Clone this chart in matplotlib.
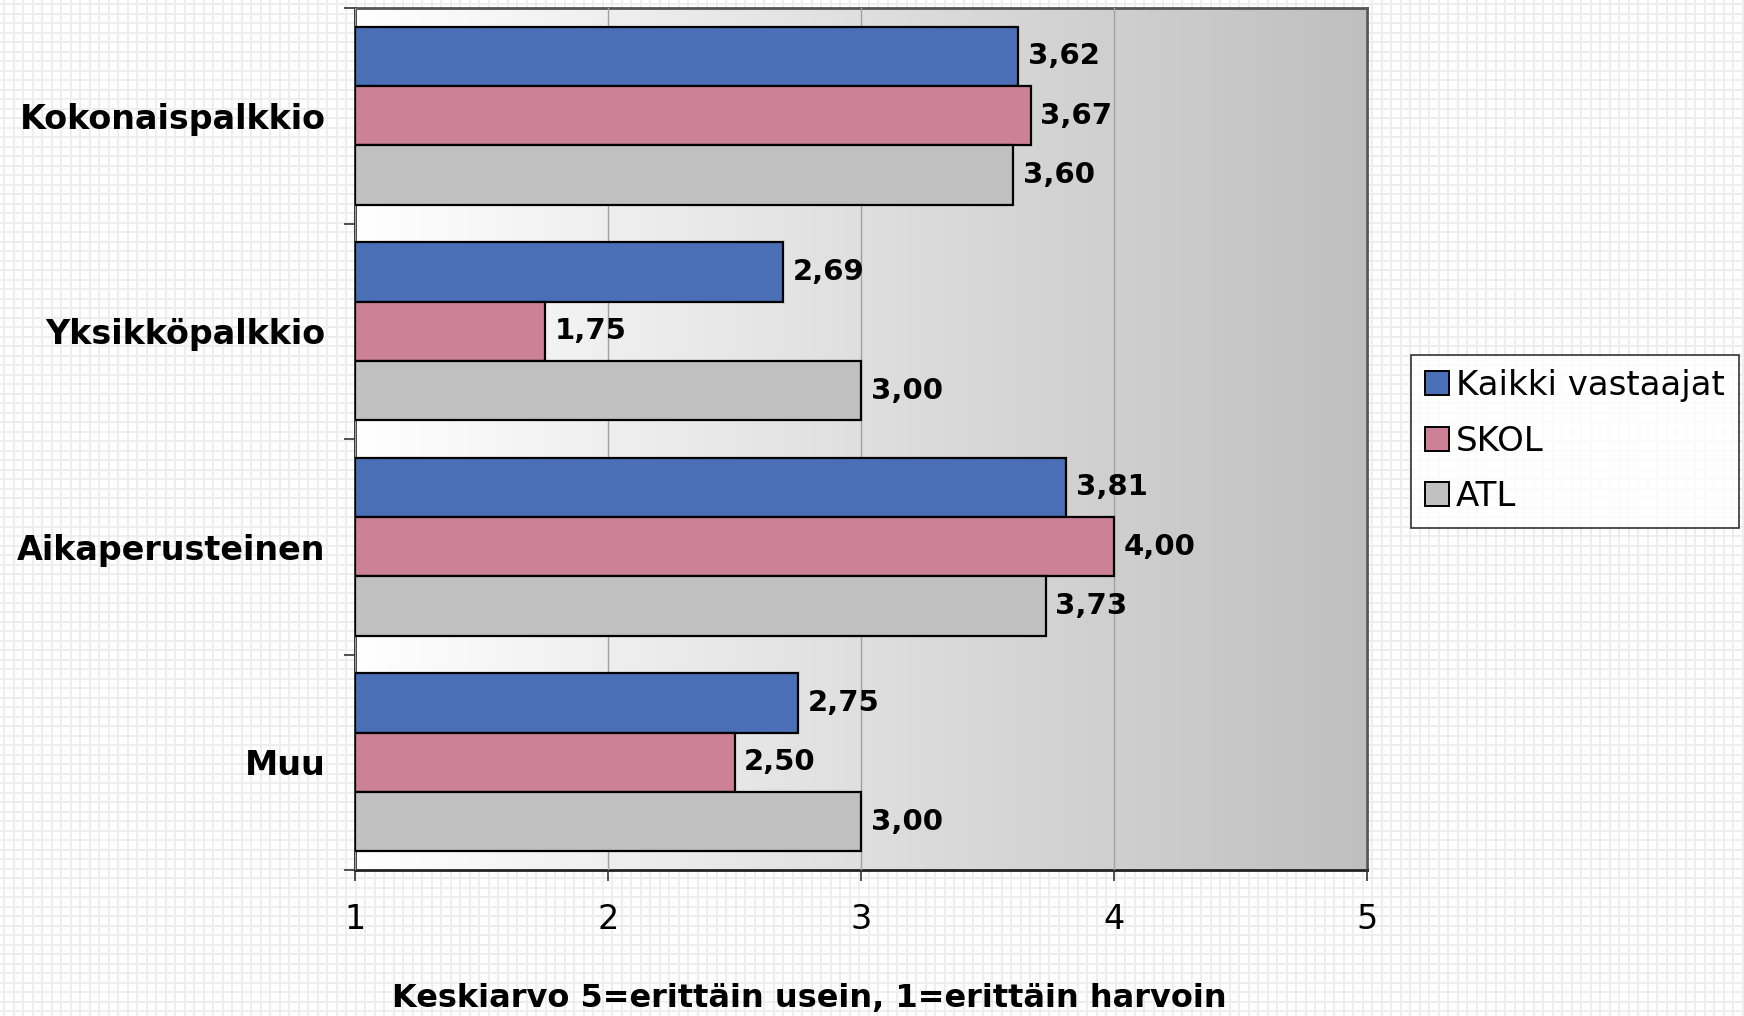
import numpy as np
import matplotlib
matplotlib.use('Agg')
import matplotlib.pyplot as plt
from matplotlib.patches import Patch

# data
categories = ['Kokonaispalkkio', 'Yksikköpalkkio', 'Aikaperusteinen', 'Muu']
series = ['Kaikki vastaajat', 'SKOL', 'ATL']
kaikki = [3.62, 2.69, 3.81, 2.75]
skol = [3.67, 1.75, 4.00, 2.50]
atl = [3.60, 3.00, 3.73, 3.00]
xticks = [1, 2, 3, 4, 5]
colors = ['#4a6fb7', '#cc8199', '#c0c0c0']

plt.rcParams['font.family'] = 'DejaVu Sans'
fig = plt.figure(figsize=(17.44, 10.16), dpi=100)

# light grid pattern behind everything
bg = fig.add_axes([0, 0, 1, 1], zorder=-10)
bg.set_xlim(0, 1744)
bg.set_ylim(1016, 0)
bg.axis('off')
for gx in np.arange(4, 1744, 9.5):
    bg.axvline(gx, color='#eeeeee', lw=1.4)
for gy in np.arange(4, 1016, 9.5):
    bg.axhline(gy, color='#eeeeee', lw=1.4)

ax = fig.add_axes([355/1744, 1-870/1016, (1367-355)/1744, (870-8)/1016])

# gradient background, white -> grey
grad = np.linspace(0, 1, 256).reshape(1, -1)
cmap = matplotlib.colors.LinearSegmentedColormap.from_list('g', ['#ffffff', '#bfbfbf'])
ax.imshow(grad, extent=[1, 5, len(categories) - 0.5, -0.5], aspect='auto',
          cmap=cmap, zorder=0)

y = np.arange(len(categories))
h = 0.275
vals = [kaikki, skol, atl]
for i, (name, v) in enumerate(zip(series, vals)):
    pos = y + (i - 1) * h
    ax.barh(pos, np.array(v) - 1, left=1, height=h, color=colors[i],
            edgecolor='black', linewidth=1.6, label=name, zorder=3)
    for p, val in zip(pos, v):
        ax.annotate(f'{val:.2f}'.replace('.', ','), (val, p), xytext=(7, 0),
                    textcoords='offset points', va='center', ha='left',
                    fontsize=21, fontweight='bold', zorder=4)

ax.set_xlim(1, 5)
ax.set_ylim(len(categories) - 0.5, -0.5)
ax.set_xticks(xticks)
ax.set_xticklabels([str(t) for t in xticks], fontsize=24)
ax.tick_params(axis='x', length=8, width=1.2, pad=16, direction='out', color='#333333')
ax.xaxis.grid(True, color='#a0a0a0', lw=1.0, zorder=1)
ax.set_axisbelow(False)

ax.set_yticks(y)
ax.set_yticklabels(categories, fontsize=24, fontweight='bold')
ax.tick_params(axis='y', which='major', length=0, pad=21)
ax.set_yticks(np.arange(len(categories) + 1) - 0.5, minor=True)
ax.tick_params(axis='y', which='minor', length=8, width=1.2, color='#333333')

for s in ax.spines.values():
    s.set_color('#555555')
    s.set_linewidth(2)
ax.spines['left'].set_color('#222222')
ax.spines['bottom'].set_color('#222222')

ax.set_xlabel('Keskiarvo 5=erittäin usein, 1=erittäin harvoin', fontsize=23,
              fontweight='bold')
ax.xaxis.set_label_coords(0.449, -0.131)

handles = [Patch(facecolor=c, edgecolor='black', linewidth=1.4) for c in colors]
leg = fig.legend(handles, series, loc='upper left', bbox_to_anchor=(1411/1744, 1-355/1016),
                 fontsize=24.5, frameon=True, fancybox=False, handlelength=0.7,
                 handleheight=0.7, handletextpad=0.2, borderpad=0.42, labelspacing=0.66,
                 borderaxespad=0)
leg.get_frame().set_edgecolor('black')
leg.get_frame().set_linewidth(1.2)

plt.savefig('out.png', dpi=100)
